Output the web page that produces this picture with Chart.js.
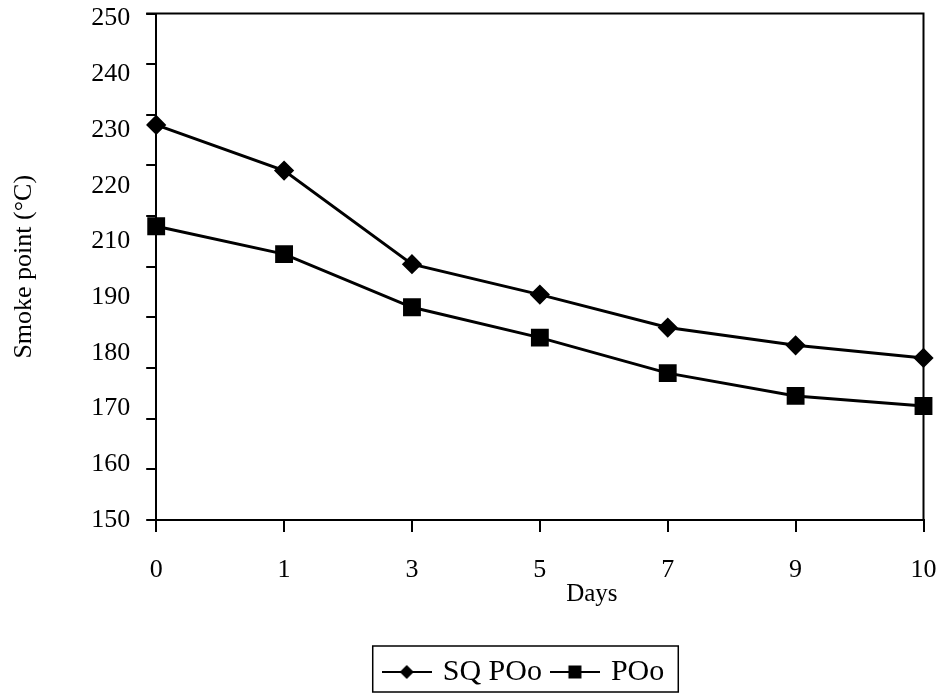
<!DOCTYPE html>
<html lang="en">
<head>
    <meta charset="UTF-8">
    <title>Smoke point</title>
    <script src="https://cdn.jsdelivr.net/npm/chart.js"></script>
    <style>
        body { margin: 0; background: #fff; }
    </style>
</head>
<body>
    <div style="width: 937px; height: 697px;">
        <canvas id="smokeChart"></canvas>
    </div>

    <script>
        // values
        const days = ['0', '1', '3', '5', '7', '9', '10'];
        const sqPOo = [228, 219, 200.5, 194.5, 188, 184.5, 182];
        const pOo = [208, 202.5, 192, 186, 179, 174.5, 172.5];
        // printed tick labels (the figure skips 200), bottom to top
        const yTickLabels = ['150', '160', '170', '180', '190', '210', '220', '230', '240', '250'];

        const font = 'Liberation Serif';

        // little line + marker icons for the legend
        function legendIcon(style) {
            const c = document.createElement('canvas');
            c.width = 50; c.height = 20;
            const g = c.getContext('2d');
            g.strokeStyle = '#000';
            g.lineWidth = 2;
            g.beginPath(); g.moveTo(0, 10); g.lineTo(50, 10); g.stroke();
            g.fillStyle = '#000';
            g.beginPath();
            if (style === 'diamond') {
                g.moveTo(25, 3); g.lineTo(32, 10); g.lineTo(25, 17); g.lineTo(18, 10);
            } else {
                g.rect(18.5, 3.5, 13, 13);
            }
            g.fill();
            return c;
        }
        const legendIcons = [legendIcon('diamond'), legendIcon('square')];

        const framePlugin = {
            id: 'frame',
            afterLayout(chart) {
                // legend sits a bit right of centre in the original
                chart.legend.left += 62;
                chart.legend.right += 62;
            },
            afterDraw(chart) {
                const ctx = chart.ctx;
                const a = chart.chartArea;
                ctx.save();
                ctx.strokeStyle = '#000';
                ctx.lineWidth = 2;
                ctx.beginPath();
                ctx.moveTo(a.left - 10, a.top);
                ctx.lineTo(a.right, a.top);
                ctx.lineTo(a.right, a.bottom);
                ctx.stroke();

                // "Days" sits right of centre in the original
                ctx.fillStyle = '#000';
                ctx.font = '25px "' + font + '"';
                ctx.textAlign = 'center';
                ctx.textBaseline = 'middle';
                ctx.fillText('Days', (a.left + a.right) / 2 + 52, a.bottom + 74);

                // box round the legend
                const boxes = chart.legend.legendHitBoxes;
                if (boxes && boxes.length) {
                    const l = Math.min(...boxes.map(b => b.left)) - 13;
                    const r = Math.max(...boxes.map(b => b.left + b.width)) + 14;
                    ctx.lineWidth = 1.5;
                    ctx.strokeRect(l, chart.legend.top + 1, r - l, chart.legend.height - 6);
                }
                ctx.restore();
            }
        };

        const ctx = document.getElementById('smokeChart').getContext('2d');
        new Chart(ctx, {
            type: 'line',
            data: {
                labels: days,
                datasets: [{
                    label: 'SQ POo',
                    data: sqPOo,
                    borderColor: '#000',
                    backgroundColor: '#000',
                    borderWidth: 3,
                    pointStyle: 'rectRot',
                    pointRadius: 8,
                    tension: 0,
                    clip: false
                }, {
                    label: 'POo',
                    data: pOo,
                    borderColor: '#000',
                    backgroundColor: '#000',
                    borderWidth: 3,
                    pointStyle: 'rect',
                    pointRadius: 10.5,
                    tension: 0,
                    clip: false
                }]
            },
            options: {
                responsive: true,
                maintainAspectRatio: false,
                animation: false,
                devicePixelRatio: 1,
                layout: { padding: { top: 13, right: 11, bottom: 0, left: 0 } },
                plugins: {
                    tooltip: { enabled: false },
                    legend: {
                        position: 'bottom',
                        labels: {
                            color: '#000',
                            font: { family: font, size: 30 },
                            usePointStyle: true,
                            pointStyleWidth: 42,
                            padding: 12,
                            generateLabels: chart =>
                                Chart.defaults.plugins.legend.labels.generateLabels(chart)
                                    .map((item, i) => ({ ...item, pointStyle: legendIcons[i] }))
                        }
                    }
                },
                scales: {
                    x: {
                        type: 'category',
                        offset: false,
                        grid: { drawOnChartArea: false, color: '#000', lineWidth: 2, tickLength: 12 },
                        border: { color: '#000', width: 2 },
                        ticks: { color: '#000', font: { family: font, size: 26 }, padding: 23, maxRotation: 0 },
                        afterFit: s => {
                            s.height = 125;
                            s.paddingLeft = 0;
                            s.paddingRight = 0;
                        }
                    },
                    y: {
                        min: 150,
                        max: 250,
                        weight: 0,
                        grid: { drawOnChartArea: false, color: '#000', lineWidth: 2, tickLength: 10 },
                        border: { color: '#000', width: 2 },
                        ticks: { display: false, stepSize: 10 }
                    },
                    yl: {
                        type: 'linear',
                        position: 'left',
                        weight: 1,
                        min: 0,
                        max: 9.09,
                        grid: { display: false, drawTicks: false },
                        border: { display: false },
                        afterBuildTicks: axis => {
                            axis.ticks = yTickLabels.map((_, i) => ({ value: i }));
                        },
                        afterFit: s => {
                            s.paddingTop = 0;
                            s.paddingBottom = 0;
                        },
                        ticks: {
                            color: '#000',
                            font: { family: font, size: 26, lineHeight: 1 },
                            padding: 16,
                            callback: v => yTickLabels[v]
                        },
                        title: {
                            display: true,
                            text: 'Smoke point (°C)',
                            color: '#000',
                            font: { family: font, size: 26 },
                            padding: { top: 9, bottom: 35 }
                        }
                    }
                }
            },
            plugins: [framePlugin]
        });
    </script>
</body>
</html>
